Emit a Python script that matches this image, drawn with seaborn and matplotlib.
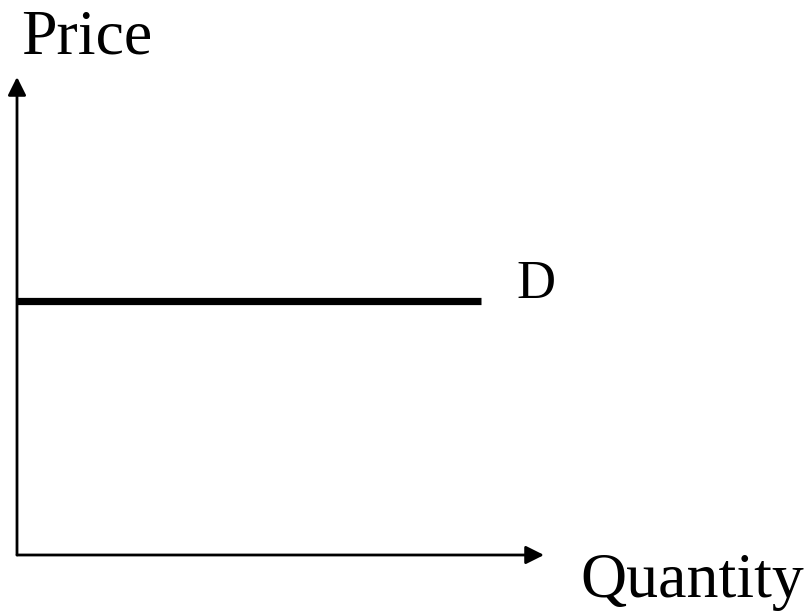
import numpy as np
import pandas as pd
import matplotlib.pyplot as plt
import seaborn as sns

# --- DATA --- #
quantity = [0.0, 8.8]
price = [5.31, 5.31]
curve_label = "D"
x_label = "Quantity"
y_label = "Price"

# --- STYLE --- #
sns.set_style("white")
plt.rcParams["font.family"] = ["Liberation Serif", "DejaVu Serif"]
plt.rcParams["text.color"] = "black"

fig = plt.figure(figsize=(8.08, 6.12), dpi=100)
ax = fig.add_axes([17 / 808, 57 / 612, 527 / 808, 478 / 612])
ax.set_xlim(0, 10)
ax.set_ylim(0, 10)
ax.axis("off")

df = pd.DataFrame({"Quantity": quantity, "Price": price})
sns.lineplot(data=df, x="Quantity", y="Price", color="black", linewidth=5.2, ax=ax,
             solid_capstyle="butt")

# --- AXES WITH ARROWS --- #
arrow = dict(arrowstyle="-|>,head_length=1.1,head_width=0.55", color="black", lw=2,
             shrinkA=0, shrinkB=0)
ax.annotate("", xy=(0, 10), xytext=(0, 0), arrowprops=arrow, annotation_clip=False)
ax.annotate("", xy=(10, 0), xytext=(0, 0), arrowprops=arrow, annotation_clip=False)

# --- LABELS --- #
ax.text(quantity[-1] + 0.68, price[-1] + 0.07, curve_label, fontsize=39,
        ha="left", va="baseline", color="black")
fig.text(21 / 808, 1 - 53 / 612, y_label, fontsize=46, ha="left", va="baseline",
         color="black")
fig.text(804 / 808, 1 - 597 / 612, x_label, fontsize=46, ha="right", va="baseline",
         color="black")

fig.savefig("out.png", dpi=100)
